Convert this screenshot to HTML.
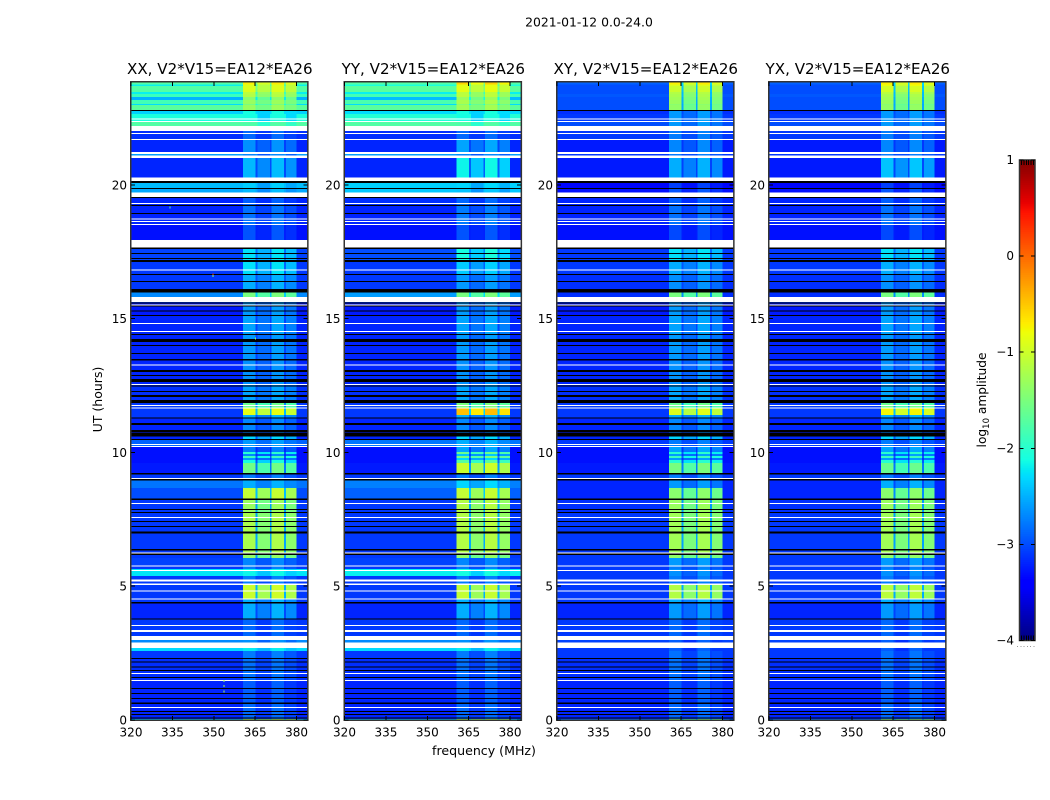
<!DOCTYPE html>
<html lang="en">
<head>
<meta charset="utf-8">
<title>2021-01-12 0.0-24.0</title>
<style>
html,body{margin:0;padding:0;background:#fff;width:1050px;height:800px;overflow:hidden}
svg{display:block}
text{font-family:"DejaVu Sans","Liberation Sans",sans-serif;fill:#000}
</style>
</head>
<body>
<svg id="chart" xmlns="http://www.w3.org/2000/svg" width="1050" height="800" viewBox="0 0 1050 800">
  <rect x="0" y="0" width="1050" height="800" fill="#fff"/>
  <text x="589" y="26.5" font-size="12.4" text-anchor="middle">2021-01-12 0.0-24.0</text>
  <text transform="translate(102,399.5) rotate(-90)" font-size="12.5" text-anchor="middle">UT (hours)</text>
  <text x="484" y="755" font-size="12.6" text-anchor="middle">frequency (MHz)</text>
  <text transform="translate(986,400) rotate(-90)" font-size="12.2" text-anchor="middle">log<tspan font-size="8.5" dy="3">10</tspan><tspan dy="-3"> amplitude</tspan></text>
  <g id="panels"></g>
  <g id="colorbar"></g>
</svg>
<script>
// ---- Data ----
const panelTitles = ["XX, V2*V15=EA12*EA26", "YY, V2*V15=EA12*EA26", "XY, V2*V15=EA12*EA26", "YX, V2*V15=EA12*EA26"];
const freqTicks = [320, 335, 350, 365, 380];
const utTicks = [0, 5, 10, 15, 20];
const colorTicks = [1, 0, -1, -2, -3, -4];

// frequency zones (MHz edges), band weight of each zone, band offset of each zone (log10)
const zoneEdges = [320, 360.6, 365.2, 365.9, 370.3, 371, 375.4, 376.1, 380, 384];
const zoneBandWeight = [0, 1, 0.3, 1, 0.3, 1, 0.3, 1, 0];
const zoneBandOffset = [0, 0.08, 0, -0.15, 0, 0.1, 0, -0.1, 0];

// top UT hour of each level row (last row ends at 0)
const levelTopUT = [23.85,23.757,23.701,23.477,23.402,23.29,23.177,23.028,22.991,22.766,22.655,22.356,22.019,21.682,21.159,21.009,20.075,19.85,19.514,19.215,18.505,17.645,17.121,16.636,15.974,15.813,15.588,15.103,14.393,13.458,12.486,11.851,11.645,11.402,11.271,10.598,10.467,10.206,10.019,9.944,9.869,9.794,9.72,9.608,9.234,8.953,8.673,8.28,7.738,6.168,6.056,5.738,5.645,5.383,5.046,4.505,4.355,3.757,2.99,2.692,2.58,2.317,1.496,0.598,0.038];

// log10 amplitude outside the band (Back) and inside the 360-380 MHz band (Band), per polarisation
const xxBack = [-1.75,-2.2,-1.75,-2.2,-1.9,-2.5,-1.85,-2.3,-1.7,-2.35,-2.1,-1.75,-3.15,-3.2,-2.6,-3.2,-2.45,-2.55,-3.2,-3.2,-3.3,-3.05,-3.1,-3.1,-2.7,-3.1,-3.25,-3.2,-3.2,-3.2,-3.15,-3.1,-3.1,-3.1,-3.2,-3.2,-2.9,-3.3,-3.3,-3.3,-3.3,-3.3,-3.3,-3.25,-3.1,-2.8,-3.0,-3.1,-3.1,-3.1,-3.05,-3.1,-2.25,-3.1,-3.1,-3.1,-3.2,-3.1,-2.7,-2.3,-3.1,-3.15,-3.2,-3.2,-2.4];
const xxBand = [-0.8,-1.0,-1.0,-1.2,-1.25,-1.5,-1.4,-1.6,-1.4,-2.2,-2.2,-1.85,-2.95,-2.75,-2.8,-2.55,-2.45,-2.55,-3.0,-2.9,-3.05,-2.35,-2.35,-2.6,-1.6,-2.7,-2.7,-2.65,-2.7,-2.75,-2.65,-1.7,-0.95,-2.6,-2.8,-2.4,-2.7,-2.85,-2.1,-2.8,-2.0,-2.7,-2.2,-1.65,-2.85,-2.6,-1.15,-1.4,-1.3,-1.45,-2.8,-2.85,-2.25,-2.85,-1.1,-2.6,-2.6,-2.95,-2.75,-2.3,-2.85,-2.9,-3.0,-2.95,-1.2];
const yyBack = [-1.75,-2.1,-1.7,-2.2,-1.85,-2.45,-1.8,-2.3,-1.7,-2.3,-2.05,-1.75,-3.15,-3.2,-2.6,-3.2,-2.35,-2.4,-3.15,-3.2,-3.3,-3.0,-3.1,-3.1,-2.6,-3.1,-3.25,-3.2,-3.2,-3.2,-3.15,-3.1,-3.1,-3.1,-3.2,-3.2,-2.8,-3.3,-3.3,-3.3,-3.3,-3.3,-3.3,-3.25,-3.1,-2.75,-2.9,-3.1,-3.1,-3.1,-3.05,-3.1,-2.2,-3.1,-3.1,-3.1,-3.2,-3.1,-2.7,-2.3,-3.1,-3.15,-3.2,-3.2,-2.4];
const yyBand = [-0.65,-0.95,-0.95,-1.2,-1.2,-1.4,-1.3,-1.5,-1.35,-2.2,-2.2,-1.85,-2.95,-2.65,-2.8,-2.25,-2.4,-2.5,-2.95,-2.85,-3.05,-2.2,-2.45,-2.7,-1.6,-2.7,-2.7,-2.65,-2.7,-2.75,-2.65,-1.6,-0.55,-2.6,-2.8,-2.4,-2.6,-2.65,-1.7,-2.5,-1.6,-2.4,-1.8,-1.1,-2.85,-2.4,-1.15,-1.25,-1.25,-1.45,-2.8,-2.85,-2.2,-2.85,-1.15,-2.6,-2.6,-2.95,-2.75,-2.3,-2.85,-2.9,-3.0,-2.95,-1.2];
const xyBack = [-2.9,-3.0,-3.0,-3.0,-2.95,-3.0,-3.0,-3.0,-3.0,-3.15,-3.1,-3.0,-3.1,-3.25,-3.1,-3.25,-3.35,-3.3,-3.2,-3.2,-3.3,-3.1,-3.1,-3.15,-3.15,-3.1,-3.25,-3.2,-3.2,-3.2,-3.15,-3.1,-3.1,-3.1,-3.2,-3.2,-3.1,-3.3,-3.3,-3.3,-3.3,-3.3,-3.3,-3.25,-3.1,-3.2,-3.2,-3.15,-3.1,-3.1,-3.1,-3.1,-3.1,-3.1,-3.1,-3.1,-3.2,-3.1,-3.05,-3.1,-3.1,-3.15,-3.2,-3.2,-2.8];
const xyBand = [-0.8,-1.0,-1.1,-1.25,-1.3,-1.35,-1.4,-1.5,-1.45,-2.7,-2.7,-2.7,-2.85,-2.8,-2.85,-2.6,-3.15,-3.05,-3.0,-2.9,-3.1,-2.35,-2.6,-2.75,-1.6,-2.7,-2.7,-2.65,-2.7,-2.75,-2.65,-1.7,-1.0,-2.6,-2.8,-2.4,-2.85,-2.65,-2.1,-2.7,-2.0,-2.7,-2.1,-1.6,-2.85,-2.7,-1.5,-1.4,-1.35,-1.45,-2.7,-2.85,-2.75,-2.85,-1.25,-2.6,-2.7,-2.95,-3.0,-3.0,-2.9,-2.9,-3.0,-2.95,-1.5];
const yxBack = [-2.9,-3.0,-3.0,-3.0,-2.95,-3.0,-3.0,-3.0,-3.0,-3.15,-3.1,-3.0,-3.1,-3.25,-3.1,-3.25,-3.35,-3.3,-3.2,-3.2,-3.3,-3.1,-3.1,-3.15,-3.15,-3.1,-3.25,-3.2,-3.2,-3.2,-3.15,-3.1,-3.1,-3.1,-3.2,-3.2,-3.1,-3.3,-3.3,-3.3,-3.3,-3.3,-3.3,-3.25,-3.1,-3.2,-3.2,-3.15,-3.1,-3.1,-3.1,-3.1,-3.1,-3.1,-3.1,-3.1,-3.2,-3.1,-3.05,-3.1,-3.1,-3.15,-3.2,-3.2,-2.8];
const yxBand = [-0.8,-0.9,-1.05,-1.2,-1.3,-1.35,-1.4,-1.5,-1.45,-2.7,-2.7,-2.7,-2.85,-2.8,-2.85,-2.5,-3.15,-3.05,-3.0,-2.9,-3.1,-2.35,-2.6,-2.75,-1.6,-2.7,-2.7,-2.65,-2.7,-2.75,-2.65,-1.7,-0.85,-2.6,-2.8,-2.4,-2.85,-2.65,-2.1,-2.7,-2.0,-2.7,-2.1,-1.7,-2.85,-2.6,-1.5,-1.4,-1.35,-1.45,-2.7,-2.85,-2.75,-2.85,-1.2,-2.6,-2.7,-2.95,-3.0,-3.0,-2.9,-2.9,-3.0,-2.95,-1.5];

// UT intervals with no data (white): start, end alternating
const blankUT = [22.486,22.448,22.392,22.356,22.206,22.019,21.944,21.906,21.72,21.682,21.234,21.159,21.103,21.009,20.281,20.15,19.712,19.551,19.328,19.29,18.747,18.711,18.654,18.617,18.543,18.505,17.944,17.664,16.841,16.803,15.813,15.626,15.532,15.496,14.841,14.804,14.542,14.505,13.29,13.253,12.561,12.523,11.776,11.738,11.683,11.645,10.318,10.28,10.243,10.206,9.047,9.009,8.112,8.075,7.588,7.552,6.262,6.224,5.776,5.738,5.608,5.57,5.252,5.177,5.103,5.046,4.842,4.804,4.542,4.505,3.552,3.514,3.365,3.289,3.14,2.99,2.897,2.692,1.757,1.719,1.496,1.458,0.486,0.448];

// UT intervals flagged to zero (black): start, end alternating
const flaggedUT = [22.804,22.766,20.15,20.075,19.888,19.85,19.551,19.514,19.252,19.215,18.953,18.916,17.664,17.607,17.458,17.421,17.272,17.234,17.196,17.121,16.673,16.636,16.411,16.374,16.112,15.982,15.608,15.57,15.496,15.458,15.309,15.271,15.14,15.103,14.429,14.393,14.243,14.131,14.019,13.981,13.72,13.682,13.495,13.44,13.084,13.009,12.897,12.86,12.748,12.636,12.504,12.468,12.299,12.262,12.15,12.075,11.963,11.851,11.308,11.271,11.103,11.028,10.841,10.766,10.748,10.598,10.505,10.467,9.234,9.177,9.009,8.953,8.28,8.224,7.887,7.851,7.776,7.738,7.439,7.402,7.252,7.215,7.047,6.972,6.393,6.336,6.224,6.168,4.411,4.355,3.794,3.757,2.317,2.281,2.187,2.15,2.0,1.963,1.869,1.831,1.608,1.57,1.196,1.159,1.01,0.972,0.823,0.785,0.654,0.598,0.337,0.299,0.225,0.187,0.093,0.056];

// isolated hot samples: UT hour, frequency, log10 amplitude, panel index
const hotUT = [16.7, 16.63, 1.5, 1.3, 1.1, 19.2, 14.3];
const hotFreq = [349.5, 349.5, 353.5, 353.5, 353.5, 334, 365];
const hotLevel = [0.3, -1.4, -1.3, -1.3, -1.2, -1.7, -1.5];
const hotPanel = [0, 0, 0, 0, 0, 0, 0];

// ---- Layout and axis functions ----
const SVGNS = "http://www.w3.org/2000/svg";
const plotTop = 82, plotBottom = 720;
const panelLeft = [131, 344.5, 557, 769];
const panelWidth = 176.6;
const vMin = -4, vMax = 1;
const freqMin = 320, freqMax = 384, utMin = 0, utMax = 23.85;
const backs = [xxBack, yyBack, xyBack, yxBack];
const bands = [xxBand, yyBand, xyBand, yxBand];

function xScale(p, mhz) { return panelLeft[p] + (mhz - freqMin) / (freqMax - freqMin) * panelWidth; }
function yScale(h) { return plotBottom - (h - utMin) / (utMax - utMin) * (plotBottom - plotTop); }
function interp(t, xs, ys) {
  if (t <= xs[0]) return ys[0];
  for (let i = 1; i < xs.length; i++) if (t <= xs[i]) return ys[i - 1] + (ys[i] - ys[i - 1]) * (t - xs[i - 1]) / (xs[i] - xs[i - 1]);
  return ys[ys.length - 1];
}
function jet(v) {
  const t = Math.max(0, Math.min(1, (v - vMin) / (vMax - vMin)));
  const r = interp(t, [0.35, 0.66, 0.89, 1], [0, 1, 1, 0.5]);
  const g = interp(t, [0.125, 0.375, 0.64, 0.91], [0, 1, 1, 0]);
  const b = interp(t, [0, 0.11, 0.34, 0.65], [0.5, 1, 1, 0]);
  return "rgb(" + Math.round(r * 255) + "," + Math.round(g * 255) + "," + Math.round(b * 255) + ")";
}
function make(tag, parent) {
  const el = document.createElementNS(SVGNS, tag);
  parent.appendChild(el);
  return el;
}
function box(el, x, y, w, h, fill) {
  el.setAttribute("x", x);
  el.setAttribute("y", y);
  el.setAttribute("width", w);
  el.setAttribute("height", h);
  el.setAttribute("fill", fill);
  el.setAttribute("shape-rendering", "crispEdges");
}
function line(el, x1, y1, x2, y2) {
  el.setAttribute("x1", x1);
  el.setAttribute("y1", y1);
  el.setAttribute("x2", x2);
  el.setAttribute("y2", y2);
  el.setAttribute("stroke", "#000");
  el.setAttribute("stroke-width", "1");
  el.setAttribute("shape-rendering", "crispEdges");
}
function label(el, x, y, size, anchor, str) {
  el.setAttribute("x", x);
  el.setAttribute("y", y);
  el.setAttribute("font-size", size);
  el.setAttribute("text-anchor", anchor);
  el.textContent = str;
}

// ---- Panels ----
const panelsRoot = document.getElementById("panels");
panelTitles.forEach(function (title, p) {
  const g = make("g", panelsRoot);
  
  

  // heatmap cells
  for (let r = 0; r < levelTopUT.length; r++) {
    const top = levelTopUT[r];
    const bottom = r + 1 < levelTopUT.length ? levelTopUT[r + 1] : 0;
    for (let z = 0; z + 1 < zoneEdges.length; z++) {
      const w = zoneBandWeight[z];
      const back = backs[p][r];
      const level = back + w * (bands[p][r] + zoneBandOffset[z] - back);
      const cell = make("rect", g);
      
      
      const x0 = xScale(p, zoneEdges[z]), x1 = xScale(p, zoneEdges[z + 1]);
      box(cell, x0, yScale(top), x1 - x0, yScale(bottom) - yScale(top), jet(level));
    }
  }
  // flagged (black) intervals
  for (let i = 0; i + 1 < flaggedUT.length; i += 2) {
    const strip = make("rect", g);
    
    
    box(strip, xScale(p, freqMin), yScale(flaggedUT[i]), panelWidth, yScale(flaggedUT[i + 1]) - yScale(flaggedUT[i]), "#000");
  }
  // blank (white) intervals
  for (let i = 0; i + 1 < blankUT.length; i += 2) {
    const strip = make("rect", g);
    
    
    box(strip, xScale(p, freqMin), yScale(blankUT[i]), panelWidth, yScale(blankUT[i + 1]) - yScale(blankUT[i]), "#fff");
  }
  // hot samples
  for (let i = 0; i < hotUT.length; i++) {
    if (hotPanel[i] !== p) continue;
    const hot = make("rect", g);
    
    
    box(hot, xScale(p, hotFreq[i]), yScale(hotUT[i]), 1, 2, jet(hotLevel[i]));
  }

  // frame
  const frame = make("rect", g);
  
  
  frame.setAttribute("x", panelLeft[p] - 0.25);
  frame.setAttribute("y", plotTop - 0.25);
  frame.setAttribute("width", panelWidth + 0.5);
  frame.setAttribute("height", plotBottom - plotTop + 0.5);
  frame.setAttribute("fill", "none");
  frame.setAttribute("stroke", "#333");
  frame.setAttribute("stroke-width", "1.5");

  // x ticks
  freqTicks.forEach(function (f) {
    const x = xScale(p, f);
    const tb = make("line", g);
    
    
    line(tb, x, plotBottom, x, plotBottom - 4);
    const tt = make("line", g);
    
    
    line(tt, x, plotTop, x, plotTop + 4);
    const tl = make("text", g);
    
    
    label(tl, x, 736.5, 12, "middle", String(f));
  });
  // y ticks
  utTicks.forEach(function (h) {
    const y = yScale(h);
    const tl0 = make("line", g);
    
    
    line(tl0, panelLeft[p], y, panelLeft[p] + 4, y);
    const tr0 = make("line", g);
    
    
    line(tr0, panelLeft[p] + panelWidth, y, panelLeft[p] + panelWidth - 4, y);
    const tt = make("text", g);
    
    
    label(tt, panelLeft[p] - 4, y + 4.5, 12, "end", String(h));
  });
  // title
  const t = make("text", g);
  
  
  label(t, panelLeft[p] + panelWidth / 2 + 0.5, 74, 15.1, "middle", title);
});

// ---- Colour bar ----
const cbRoot = document.getElementById("colorbar");
const cbX = 1019.5, cbW = 15.5, cbTop = 160, cbBottom = 640.5;
function cbScale(v) { return cbBottom - (v - vMin) / (vMax - vMin) * (cbBottom - cbTop); }
for (let i = 0; i < 256; i++) {
  const v0 = vMin + (vMax - vMin) * i / 256, v1 = vMin + (vMax - vMin) * (i + 1) / 256;
  const seg = make("rect", cbRoot);
  
  
  seg.setAttribute("x", cbX);
  seg.setAttribute("y", cbScale(v1));
  seg.setAttribute("width", cbW);
  seg.setAttribute("height", cbScale(v0) - cbScale(v1) + 0.5);
  seg.setAttribute("fill", jet(v0));
}
const cbFrame = make("rect", cbRoot);


cbFrame.setAttribute("x", cbX);
cbFrame.setAttribute("y", cbTop);
cbFrame.setAttribute("width", cbW);
cbFrame.setAttribute("height", cbBottom - cbTop);
cbFrame.setAttribute("fill", "none");
cbFrame.setAttribute("stroke", "#333");
cbFrame.setAttribute("stroke-width", "1.5");
colorTicks.forEach(function (v) {
  const y = cbScale(v);
  const a = make("line", cbRoot);
  
  
  line(a, cbX, y, cbX + 4, y);
  const b = make("line", cbRoot);
  
  
  line(b, cbX + cbW, y, cbX + cbW - 4, y);
  const t = make("text", cbRoot);
  
  
  label(t, 1014, y + 4, 12, "end", String(v).replace("-", "\u2212"));
});
for (let i = 0; i < 6; i++) {
  const x = 1021.5 + i * 2.4;
  const up = make("line", cbRoot);
  
  
  line(up, x, cbTop, x, cbTop + 5);
  const dn = make("line", cbRoot);
  
  
  line(dn, x, cbBottom, x, cbBottom - 5);
  const dot = make("rect", cbRoot);
  
  
  box(dot, 1017 + i * 3.3, 646, 1, 1, "#999");
}
</script>
</body>
</html>
